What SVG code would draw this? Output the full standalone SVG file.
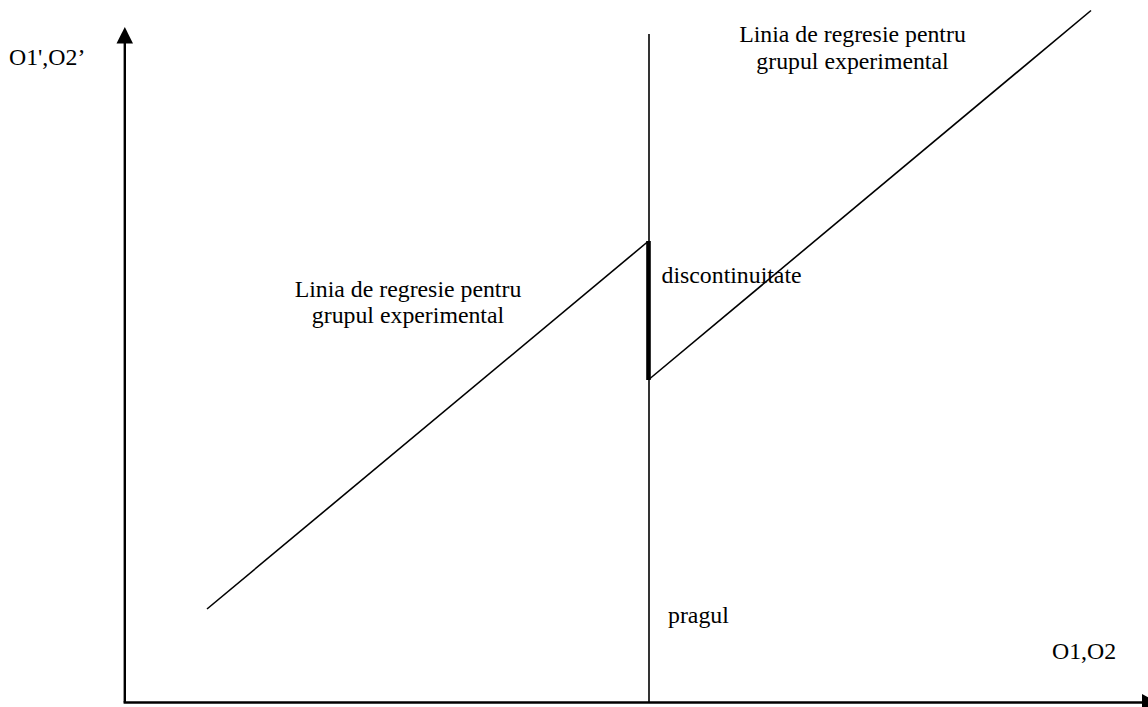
<svg xmlns="http://www.w3.org/2000/svg" width="1148" height="707" viewBox="0 0 1148 707">
<style>
text{font-family:"Liberation Serif","Times New Roman",serif;font-size:23.8px;fill:#000}
.ln{stroke:#000;stroke-width:1.6;fill:none}
.ax{stroke:#000;stroke-width:2.4;fill:none}
</style>
<defs>
<marker id="arr" markerUnits="userSpaceOnUse" markerWidth="18" markerHeight="18" refX="0" refY="8" orient="auto" viewBox="0 0 17 16">
<path d="M0,0 L17,8 L0,16 Z" fill="#000"/>
</marker>
</defs>
<rect width="1148" height="707" fill="#fff"/>
<g id="connectors">
<line id="y-axis" class="ax" x1="124.8" y1="702.5" x2="124.8" y2="43"/>
<path d="M116.5,43.5 L124.8,27 L133,43.5 Z" fill="#000"/>
<line id="x-axis" class="ax" x1="123.6" y1="702.5" x2="1142" y2="702.5"/>
<path d="M1142,694 L1158,702.5 L1142,711 Z" fill="#000"/>
<line id="threshold" class="ln" x1="649" y1="34" x2="649" y2="702"/>
<line id="left-regression" class="ln" x1="207" y1="609" x2="648" y2="241.5"/>
<line id="right-regression" class="ln" x1="650" y1="378.5" x2="1091" y2="10.5"/>
<line id="discontinuity-segment" stroke="#000" stroke-width="4.6" x1="648.5" y1="241" x2="648.5" y2="380"/>
</g>
<g id="label-yaxis"><text x="9" y="65">O1',O2’</text></g>
<g id="label-xaxis"><text x="1052" y="659">O1,O2</text></g>
<g id="label-right-line">
<text x="852.5" y="42" text-anchor="middle">Linia de regresie pentru</text>
<text x="852.5" y="69" text-anchor="middle">grupul experimental</text>
</g>
<g id="label-left-line">
<text x="408" y="297" text-anchor="middle">Linia de regresie pentru</text>
<text x="408" y="323" text-anchor="middle">grupul experimental</text>
</g>
<g id="label-discontinuity"><text x="661.5" y="283">discontinuitate</text></g>
<g id="label-threshold"><text x="668" y="623">pragul</text></g>
</svg>
